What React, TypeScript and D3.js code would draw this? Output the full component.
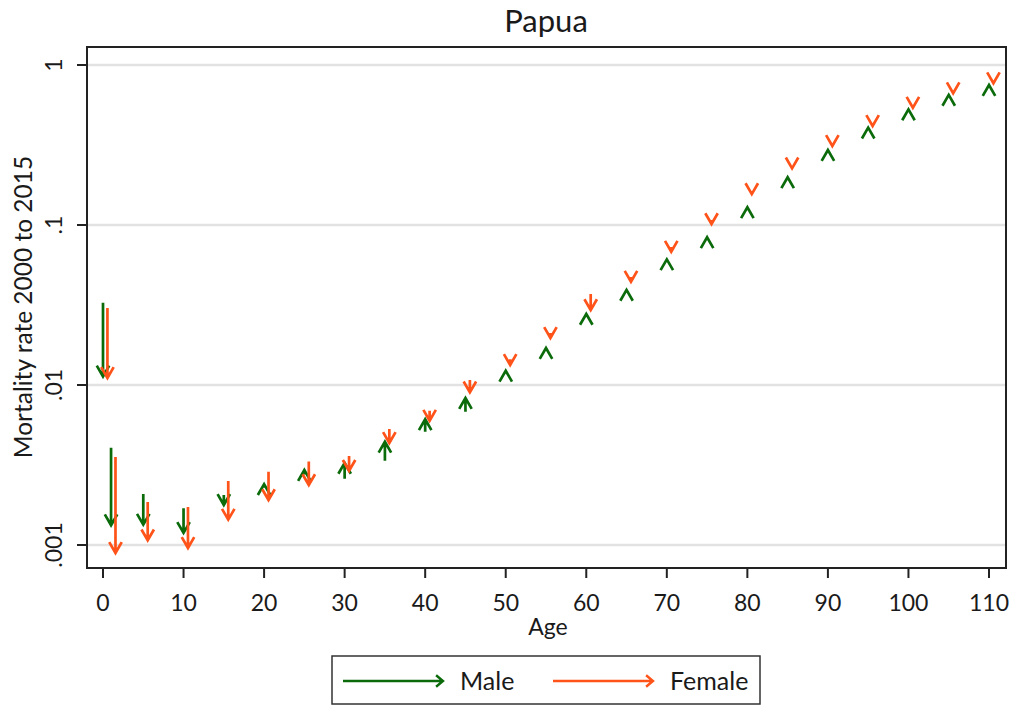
import * as d3 from 'd3';

// Age groups (x) and mortality rates at start (2000) and end (2015)
const ages = [0, 1, 5, 10, 15, 20, 25, 30, 35, 40, 45, 50, 55, 60, 65, 70, 75, 80, 85, 90, 95, 100, 105, 110];

const maleStart = [
  0.0327, 0.00405, 0.00208, 0.0017, 0.00205, 0.00228, 0.00276, 0.00259, 0.00336, 0.00511, 0.00681, 0.01189,
  0.01655, 0.027, 0.0381, 0.0593, 0.0814, 0.1254, 0.1919, 0.286, 0.394, 0.514, 0.631, 0.729,
];
const maleEnd = [
  0.0113, 0.00133, 0.00134, 0.00119, 0.00178, 0.0024, 0.00294, 0.00326, 0.00442, 0.00611, 0.00829, 0.01228,
  0.01703, 0.0278, 0.0393, 0.061, 0.0838, 0.129, 0.1986, 0.294, 0.406, 0.528, 0.65, 0.75,
];
const femaleStart = [
  0.0303, 0.00355, 0.00186, 0.00173, 0.00251, 0.00287, 0.00332, 0.0036, 0.00531, 0.0069, 0.01075, 0.0145,
  0.0211, 0.0371, 0.0473, 0.0729, 0.1075, 0.163, 0.234, 0.321, 0.428, 0.554, 0.678, 0.783,
];
const femaleEnd = [
  0.01106, 0.000891, 0.00107, 0.000958, 0.00144, 0.00191, 0.00237, 0.00291, 0.00434, 0.00598, 0.009, 0.01334,
  0.01967, 0.0294, 0.0442, 0.0681, 0.1014, 0.156, 0.226, 0.312, 0.416, 0.541, 0.666, 0.769,
];

const xTicks = [0, 10, 20, 30, 40, 50, 60, 70, 80, 90, 100, 110];
const yTicks = [0.001, 0.01, 0.1, 1];
const yTickLabels = ['.001', '.01', '.1', '1'];

const series = [
  { name: 'Male', color: '#0b6b0b', start: maleStart, end: maleEnd, offset: 0 },
  { name: 'Female', color: '#ff5319', start: femaleStart, end: femaleEnd, offset: 0.55 },
];

const W = 1018;
const H = 706;
const frame = { left: 87, right: 1006, top: 47, bottom: 568 };
const font = 'Lato, "Open Sans", sans-serif';
const textColor = '#1a1a1a';

// arrow with open barbs at the tip
function arrowPath(x1: number, y1: number, x2: number, y2: number, len = 12.5, ang = Math.PI / 6) {
  const a = Math.atan2(y2 - y1, x2 - x1);
  const p = d3.path();
  p.moveTo(x1, y1);
  p.lineTo(x2, y2);
  p.moveTo(x2 - len * Math.cos(a - ang), y2 - len * Math.sin(a - ang));
  p.lineTo(x2, y2);
  p.lineTo(x2 - len * Math.cos(a + ang), y2 - len * Math.sin(a + ang));
  return p.toString();
}

export default function App() {
  const x = d3.scaleLinear().domain([0, 110]).range([103, 989]);
  const y = d3.scaleLog().domain([0.001, 1]).range([545, 65]);

  return (
    <svg
      width={W}
      height={H}
      style={{ position: 'absolute', left: 0, top: 0, background: '#fff' }}
      fontFamily={font}
    >
      <rect width={W} height={H} fill="#fff" />
      <text x={546} y={32} textAnchor="middle" fontSize={31} fill={textColor}>
        Papua
      </text>

      {/* gridlines */}
      {yTicks.map((t) => (
        <line key={t} x1={frame.left} x2={frame.right} y1={y(t)} y2={y(t)} stroke="#e2e2e2" strokeWidth={2.5} />
      ))}

      {/* arrows */}
      {series.map((s) => (
        <g key={s.name} stroke={s.color} strokeWidth={2.7} fill="none" strokeLinejoin="miter">
          {ages.map((a, i) => {
            const px = x(a + s.offset);
            return <path key={a} d={arrowPath(px, y(s.start[i]), px, y(s.end[i]))} />;
          })}
        </g>
      ))}

      {/* frame */}
      <rect
        x={frame.left}
        y={frame.top}
        width={frame.right - frame.left}
        height={frame.bottom - frame.top}
        fill="none"
        stroke="#222"
        strokeWidth={2}
      />

      {/* y axis */}
      {yTicks.map((t, i) => (
        <g key={t}>
          <line x1={frame.left - 10} x2={frame.left} y1={y(t)} y2={y(t)} stroke="#222" strokeWidth={2} />
          <text
            transform={`translate(62,${y(t)}) rotate(-90)`}
            textAnchor="middle"
            fontSize={23}
            fill={textColor}
          >
            {yTickLabels[i]}
          </text>
        </g>
      ))}
      <text transform="translate(32,307) rotate(-90)" textAnchor="middle" fontSize={24.5} fill={textColor}>
        Mortality rate 2000 to 2015
      </text>

      {/* x axis */}
      {xTicks.map((t) => (
        <g key={t}>
          <line x1={x(t)} x2={x(t)} y1={frame.bottom} y2={frame.bottom + 10} stroke="#222" strokeWidth={2} />
          <text x={x(t)} y={611} textAnchor="middle" fontSize={23} fill={textColor}>
            {t}
          </text>
        </g>
      ))}
      <text x={548} y={635} textAnchor="middle" fontSize={23} fill={textColor}>
        Age
      </text>

      {/* legend */}
      <rect x={332} y={656} width={428} height={48} fill="#fff" stroke="#333" strokeWidth={1.5} />
      {series.map((s, i) => {
        const x0 = 343 + i * 210;
        return (
          <g key={s.name}>
            <path d={arrowPath(x0, 681, x0 + 100, 681, 9, Math.PI / 4.5)} stroke={s.color} strokeWidth={2.4} fill="none" />
            <text x={x0 + 117} y={690} fontSize={25} fill={textColor}>
              {s.name}
            </text>
          </g>
        );
      })}
    </svg>
  );
}
